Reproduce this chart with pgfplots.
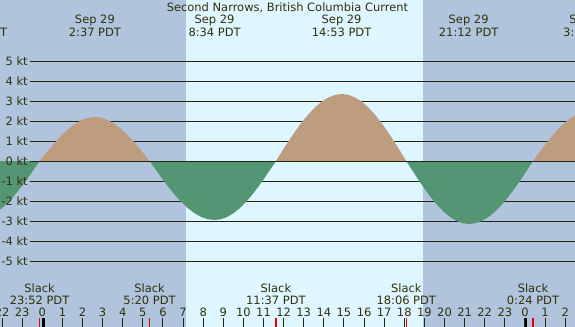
\documentclass[border=0pt]{standalone}
\usepackage{pgfplots}
\pgfplotsset{compat=1.18}
\usepackage{fontspec}
\setmainfont{DejaVu Sans}

\definecolor{nightbg}{RGB}{176,196,222}
\definecolor{daybg}{RGB}{222,246,255}
\definecolor{flood}{RGB}{190,157,126}
\definecolor{ebb}{RGB}{84,150,115}
\definecolor{linec}{RGB}{36,36,10}
\definecolor{textc}{RGB}{48,48,8}
\definecolor{slackred}{RGB}{230,0,0}

\tikzset{
  lab/.style={font=\fontsize{8.6pt}{10pt}\selectfont, text=textc, inner sep=0pt},
}

\begin{document}
\begin{tikzpicture}
\path[use as bounding box, clip] (0,0) rectangle (431.25pt,244.5pt);
\begin{axis}[
    at={(0,0)}, anchor=south west,
    scale only axis,
    width=431.25pt, height=244.5pt,
    xmin=-2.103, xmax=26.489,
    ymin=-8.25, ymax=8.05,
    hide axis,
    clip=false,
  ]
  % night / day background
  \fill[nightbg] (axis cs:-3,-9) rectangle (axis cs:28,9);
  \fill[daybg] (axis cs:7.146,-9) rectangle (axis cs:18.93,9);

  % knot lines
  \pgfplotsinvokeforeach{-5,...,5}{
    \draw[linec, line width=0.75pt] (axis cs:-0.612,#1) -- (axis cs:27,#1);
  }

  % ebb before midnight
  \addplot[fill=ebb, draw=none] coordinates {
    (-2.301,0) (-2.301,-2.584) (-1.991,-2.346) (-1.682,-2.051) (-1.372,-1.705)
    (-1.062,-1.317) (-0.752,-0.896) (-0.443,-0.454) (-0.133,0)
  } -- cycle;

  % flood, max 2:37
  \addplot[fill=flood, draw=none] coordinates {
    (-0.133,0) (0.142,0.344) (0.418,0.680) (0.693,0.999) (0.968,1.293)
    (1.244,1.556) (1.519,1.780) (1.794,1.960) (2.069,2.092) (2.345,2.173)
    (2.620,2.200) (2.891,2.173) (3.163,2.092) (3.434,1.960) (3.705,1.780)
    (3.977,1.556) (4.248,1.293) (4.519,0.999) (4.790,0.680) (5.062,0.344)
    (5.333,0)
  } -- cycle;

  % ebb, min 8:34
  \addplot[fill=ebb, draw=none] coordinates {
    (5.333,0) (5.656,-0.461) (5.980,-0.912) (6.303,-1.339) (6.627,-1.734)
    (6.950,-2.086) (7.273,-2.387) (7.597,-2.628) (7.920,-2.806) (8.244,-2.914)
    (8.567,-2.950) (8.872,-2.914) (9.177,-2.806) (9.482,-2.628) (9.787,-2.387)
    (10.092,-2.086) (10.397,-1.734) (10.702,-1.339) (11.007,-0.912) (11.312,-0.461)
    (11.617,0)
  } -- cycle;

  % flood, max 14:53
  \addplot[fill=flood, draw=none] coordinates {
    (11.617,0) (11.945,0.524) (12.274,1.035) (12.602,1.521) (12.930,1.969)
    (13.259,2.369) (13.587,2.710) (13.915,2.985) (14.243,3.186) (14.572,3.309)
    (14.900,3.350) (15.220,3.309) (15.540,3.186) (15.860,2.985) (16.180,2.710)
    (16.500,2.369) (16.820,1.969) (17.140,1.521) (17.460,1.035) (17.780,0.524)
    (18.100,0)
  } -- cycle;

  % ebb, min 21:12
  \addplot[fill=ebb, draw=none] coordinates {
    (18.100,0) (18.412,-0.493) (18.724,-0.973) (19.036,-1.430) (19.348,-1.852)
    (19.660,-2.227) (19.972,-2.548) (20.284,-2.807) (20.596,-2.996) (20.908,-3.111)
    (21.220,-3.150) (21.538,-3.111) (21.856,-2.996) (22.174,-2.807) (22.492,-2.548)
    (22.810,-2.227) (23.128,-1.852) (23.446,-1.430) (23.764,-0.973) (24.082,-0.493)
    (24.400,0)
  } -- cycle;

  % flood after midnight
  \addplot[fill=flood, draw=none] coordinates {
    (24.400,0) (24.685,0.391) (24.970,0.773) (25.255,1.135) (25.540,1.470)
    (25.825,1.768) (26.110,2.023) (26.395,2.228) (26.680,2.378) (26.680,0)
  } -- cycle;

  % zero line on top
  \draw[linec, line width=0.75pt] (axis cs:-0.612,0) -- (axis cs:27,0);

  % knot labels
  \pgfplotsinvokeforeach{-5,...,5}{
    \node[lab, anchor=base east, yshift=-3.5pt] at (axis cs:-0.711,#1) {#1 kt};
  }

  % title
  \node[lab, anchor=base] at (axis cs:12.19,7.465) {Second Narrows, British Columbia Current};

  % max / min times
  \node[lab, anchor=base] at (axis cs:-3.23,6.885) {Sep 28};
  \node[lab, anchor=base] at (axis cs:-3.23,6.25) {20:46 PDT};
  \node[lab, anchor=base] at (axis cs:2.617,6.885) {Sep 29};
  \node[lab, anchor=base] at (axis cs:2.617,6.25) {2:37 PDT};
  \node[lab, anchor=base] at (axis cs:8.567,6.885) {Sep 29};
  \node[lab, anchor=base] at (axis cs:8.567,6.25) {8:34 PDT};
  \node[lab, anchor=base] at (axis cs:14.883,6.885) {Sep 29};
  \node[lab, anchor=base] at (axis cs:14.883,6.25) {14:53 PDT};
  \node[lab, anchor=base] at (axis cs:21.2,6.885) {Sep 29};
  \node[lab, anchor=base] at (axis cs:21.2,6.25) {21:12 PDT};
  \node[lab, anchor=base] at (axis cs:27.2,6.885) {Sep 30};
  \node[lab, anchor=base] at (axis cs:27.2,6.25) {3:13 PDT};

  % slack times
  \node[lab, anchor=base] at (axis cs:-0.133,-6.55) {Slack};
  \node[lab, anchor=base] at (axis cs:-0.133,-7.15) {23:52 PDT};
  \node[lab, anchor=base] at (axis cs:5.333,-6.55) {Slack};
  \node[lab, anchor=base] at (axis cs:5.333,-7.15) {5:20 PDT};
  \node[lab, anchor=base] at (axis cs:11.617,-6.55) {Slack};
  \node[lab, anchor=base] at (axis cs:11.617,-7.15) {11:37 PDT};
  \node[lab, anchor=base] at (axis cs:18.1,-6.55) {Slack};
  \node[lab, anchor=base] at (axis cs:18.1,-7.15) {18:06 PDT};
  \node[lab, anchor=base] at (axis cs:24.4,-6.55) {Slack};
  \node[lab, anchor=base] at (axis cs:24.4,-7.15) {0:24 PDT};

  % hour ticks and labels
  \foreach \h in {-2,...,26} {
    \pgfmathtruncatemacro\l{mod(\h+24,24)}
    \edef\temp{
      \noexpand\draw[linec, line width=0.75pt] (axis cs:\h,-7.85) -- (axis cs:\h,-8.4);
      \noexpand\node[lab, anchor=base] at (axis cs:\h,-7.75) {\l};
    }
    \temp
  }
  % slack ticks
  \pgfplotsinvokeforeach{-0.133,5.333,11.617,18.1,24.4}{
    \draw[slackred, line width=1.1pt] (axis cs:#1,-7.85) -- (axis cs:#1,-8.4);
  }
  % midnight ticks
  \pgfplotsinvokeforeach{0,24}{
    \draw[black, line width=2pt] (axis cs:#1+0.05,-7.85) -- (axis cs:#1+0.05,-8.4);
  }
\end{axis}
\end{tikzpicture}
\end{document}
